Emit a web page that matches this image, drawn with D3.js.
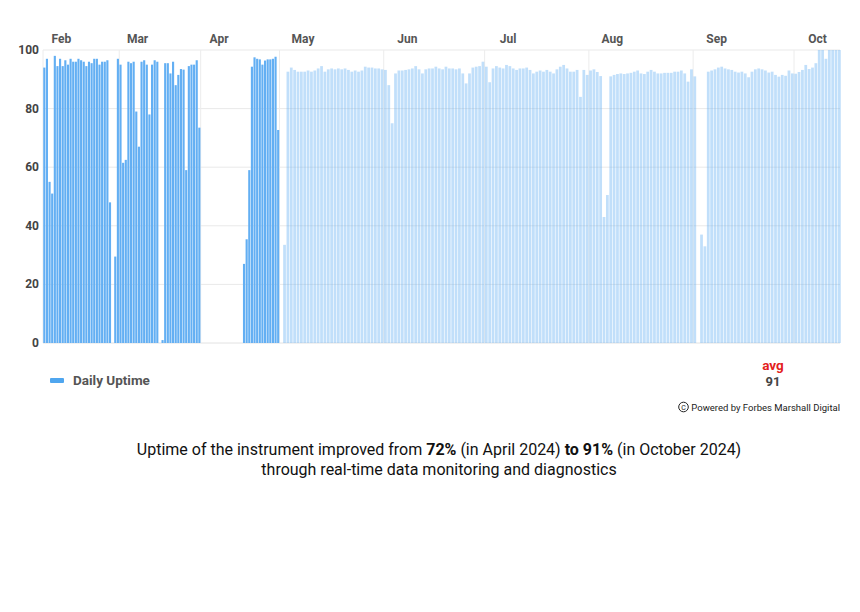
<!DOCTYPE html>
<html lang="en">
<head>
<meta charset="utf-8">
<title>Daily Uptime</title>
<script src="https://cdn.jsdelivr.net/npm/d3@7"></script>
<style>
  body { margin: 0; background: #ffffff; }
  text { font-family: Roboto, "Liberation Sans", Arial, sans-serif; }
  .tick-label { font-size: 12px; font-weight: bold; fill: #444444; }
  .month-label { font-size: 12px; font-weight: bold; fill: #555555; }
  .legend-text { font-size: 13.5px; font-weight: bold; fill: #555555; }
  .caption { font-size: 16px; fill: #111111; }
</style>
</head>
<body>
<div id="chart"></div>
<script>

// daily uptime in %, one value per day, null = no data
var earlyStart = "2024-02-01";
var earlyUptime = [
  // Feb
  94, 97, 55, 51, 98, 94.5, 97, 94.5, 96.5, 95, 97, 96, 96, 97, 96.5, 96, 94.5, 96, 95.5, 97,
  97, 95, 96, 96, 96.5, 48, null, 29.5, 97,
  // Mar
  95, 61.5, 62.5, 96, 95.5, 96, 79, 67, 96, 96.5, 95, 78, 95, 96.5, 96, null, 1, 95.5, 95.5, 92,
  96, 88, 91.5, 93.5, 93.3, 59, 94.5, 95, 95, 96.5, 73.5,
  // Apr
  null, null, null, null, null, null, null, null, null, null, null, null, null, null, null, null,
  27, 35.4, 59, 94.3, 97.5, 97, 96.8, 95, 96.4, 96.8, 96.8, 97, 97.7, 72.7
];

var lateStart = "2024-05-01";
var lateUptime = [
  // May
  null, 33.5, 92.6, 94, 93.2, 92.6, 92.6, 92.6, 93, 92.6, 93, 93.7, 94.5, 92.6, 93.4, 93.7,
  93.4, 93.7, 93.4, 93.7, 93.2, 92.6, 93, 92.6, 93, 94.3, 94, 94, 93.7, 93.7, 93.4,
  // Jun
  93.2, 88, 75, 92, 93, 93, 93.2, 93.4, 93.7, 94.5, 93.4, 92, 93.4, 93.7, 93.7, 94.3,
  93.7, 93.4, 94.3, 93.7, 93.7, 93.4, 93.7, 92, 88.6, 92, 94, 94.3, 94.5, 96,
  // Jul
  94.3, 89, 93.7, 94.5, 94, 93.7, 94.9, 94.5, 93.7, 93.2, 93.7, 93.7, 94, 93.2, 92, 92.6,
  93, 92.6, 93.2, 92.6, 92, 93.4, 94.3, 94.9, 93.7, 92.6, 92.6, 93.2, 84, 93.2, 91.5,
  // Aug
  93, 93.4, 92.5, 91.1, 43, 50.5, 91, 91.5, 91.8, 92, 91.8, 92, 92.2, 92.6, 93, 92,
  91.8, 92.6, 93.2, 92.6, 92, 92, 92.2, 92.2, 92.2, 92.6, 92.6, 93, 92, 89.2, 93.4,
  // Sep
  91, null, 37, 33, 92.6, 93, 93.4, 94, 94.3, 93.7, 93.4, 93.2, 92.6, 92.3, 92.6, 92,
  90.7, 92.6, 93.4, 93.7, 93.4, 93, 92.3, 92.6, 91.5, 90.9, 91.5, 91.2, 93, 92,
  // Oct
  91.9, 92.5, 93.2, 94.9, 93.5, 94, 95.5, 100, 100, 97, 100, 100, 100, 100
];

var yTicks = [0, 20, 40, 60, 80, 100];
var monthStarts = ["2024-02-01", "2024-03-01", "2024-04-01", "2024-05-01", "2024-06-01",
                   "2024-07-01", "2024-08-01", "2024-09-01", "2024-10-01"];
var monthNames = ["Feb", "Mar", "Apr", "May", "Jun", "Jul", "Aug", "Sep", "Oct"];

var legendLabel = "Daily Uptime";
var avgLabel = "avg";
var avgValue = 91;
var poweredBy = "Powered by Forbes Marshall Digital";

var width = 860, height = 612;
var plot = {left: 43, right: 840, top: 50, bottom: 343};

var parse = d3.utcParse("%Y-%m-%d");

var svg = d3.select("#chart")
  .append("svg")
  .attr("width", width)
  .attr("height", height);

// time scale, the earlier months are drawn narrower than the later ones
var x = d3.scaleUtc()
  .domain([parse("2024-02-01"), parse("2024-05-01"), parse("2024-10-01")])
  .range([plot.left, 279.5, 794]);

var y = d3.scaleLinear()
  .domain([0, 100])
  .range([plot.bottom, plot.top]);

// horizontal grid
svg.append("g")
  .selectAll("line")
  .data(yTicks)
  .enter()
  .append("line")
  .attr("x1", plot.left)
  .attr("x2", plot.right)
  .attr("y1", function(d) { return y(d); })
  .attr("y2", function(d) { return y(d); })
  .attr("stroke", function(d) { return d === 0 ? "#e2e2e2" : "#e9e9e9"; })
  .attr("stroke-width", 1);

// vertical grid at month starts
svg.append("g")
  .selectAll("line")
  .data(monthStarts)
  .enter()
  .append("line")
  .attr("x1", function(d) { return x(parse(d)); })
  .attr("x2", function(d) { return x(parse(d)); })
  .attr("y1", plot.top)
  .attr("y2", plot.bottom)
  .attr("stroke", "#ececec")
  .attr("stroke-width", 1);

// turn a value list into dated points
function toPoints(start, values) {
  var s = parse(start);
  return values.map(function(v, i) {
    return {date: d3.utcDay.offset(s, i), value: v};
  }).filter(function(d) { return d.value !== null; });
}

function drawBars(points, opacity, gap) {
  svg.append("g")
    .selectAll("rect")
    .data(points)
    .enter()
    .append("rect")
    .attr("x", function(d) { return x(d.date) + gap / 2; })
    .attr("width", function(d) { return x(d3.utcDay.offset(d.date, 1)) - x(d.date) - gap; })
    .attr("y", function(d) { return y(d.value); })
    .attr("height", function(d) { return y(0) - y(d.value); })
    .attr("fill", "#63aff3")
    .attr("fill-opacity", opacity);
}

drawBars(toPoints(earlyStart, earlyUptime), 1, 0.5);
drawBars(toPoints(lateStart, lateUptime), 0.4, 0.6);

// y tick labels
svg.append("g")
  .selectAll("text")
  .data(yTicks)
  .enter()
  .append("text")
  .attr("class", "tick-label")
  .attr("text-anchor", "end")
  .attr("x", 39)
  .attr("y", function(d) { return y(d) + 4; })
  .text(function(d) { return d; });

// month labels along the top, centred about a week into the month
svg.append("g")
  .selectAll("text")
  .data(monthStarts)
  .enter()
  .append("text")
  .attr("class", "month-label")
  .attr("text-anchor", "middle")
  .attr("x", function(d) { return x(d3.utcDay.offset(parse(d), 7)); })
  .attr("y", 43)
  .text(function(d, i) { return monthNames[i]; });

// legend
svg.append("rect")
  .attr("x", 50)
  .attr("y", 378)
  .attr("width", 14)
  .attr("height", 5)
  .attr("rx", 1)
  .attr("fill", "#4fa6ef");

svg.append("text")
  .attr("class", "legend-text")
  .attr("x", 73)
  .attr("y", 385)
  .text(legendLabel);

// average
svg.append("text")
  .attr("x", 773)
  .attr("y", 370)
  .attr("text-anchor", "middle")
  .style("font-size", "13.5px")
  .style("font-weight", "bold")
  .style("fill", "#e3211c")
  .text(avgLabel);

svg.append("text")
  .attr("x", 773)
  .attr("y", 386)
  .attr("text-anchor", "middle")
  .style("font-size", "13px")
  .style("font-weight", "bold")
  .style("fill", "#444444")
  .text(avgValue);

// powered by
svg.append("circle")
  .attr("cx", 683.5)
  .attr("cy", 407)
  .attr("r", 4.8)
  .attr("fill", "none")
  .attr("stroke", "#222222")
  .attr("stroke-width", 1);

svg.append("text")
  .attr("x", 683.5)
  .attr("y", 410)
  .attr("text-anchor", "middle")
  .style("font-size", "7px")
  .style("fill", "#222222")
  .text("C");

svg.append("text")
  .attr("x", 840)
  .attr("y", 410.5)
  .attr("text-anchor", "end")
  .style("font-size", "9.5px")
  .style("fill", "#222222")
  .text(poweredBy);

// caption
var line1 = svg.append("text")
  .attr("class", "caption")
  .attr("x", 439)
  .attr("y", 454.5)
  .attr("text-anchor", "middle");

line1.append("tspan").text("Uptime of the instrument improved from ");
line1.append("tspan").style("font-weight", "bold").text("72%");
line1.append("tspan").text(" (in April 2024) ");
line1.append("tspan").style("font-weight", "bold").text("to 91%");
line1.append("tspan").text(" (in October 2024)");

svg.append("text")
  .attr("class", "caption")
  .attr("x", 439)
  .attr("y", 474.5)
  .attr("text-anchor", "middle")
  .text("through real-time data monitoring and diagnostics");

</script>
</body>
</html>
